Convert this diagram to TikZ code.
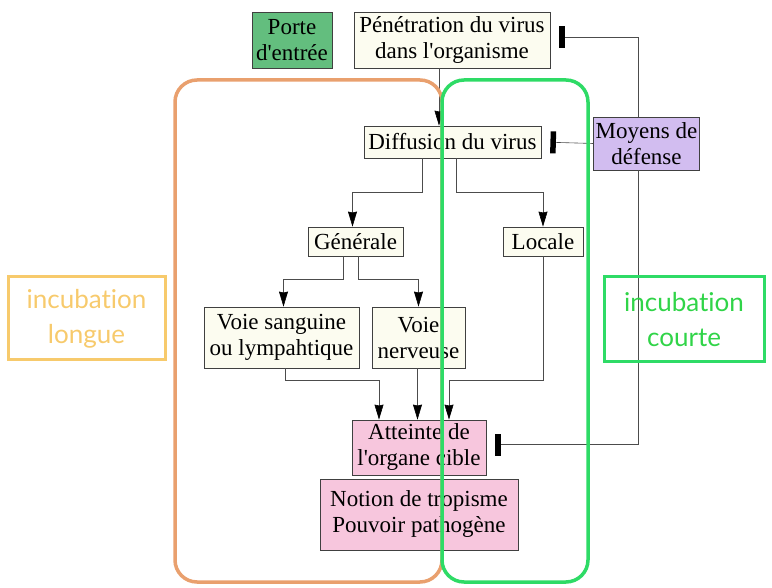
\documentclass[tikz,border=0pt]{standalone}
\usepackage{fontspec}
\setmainfont{Liberation Serif}
\newfontfamily\incfont[Ligatures=NoCommon]{Lato}
\usetikzlibrary{arrows.meta,calc}
\definecolor{boxcream}{HTML}{FCFCF0}
\definecolor{portegreen}{HTML}{63BE7E}
\definecolor{defviolet}{HTML}{D2BDF0}
\definecolor{ciblepink}{HTML}{F7C6DD}
\definecolor{longorange}{HTML}{E9A06E}
\definecolor{courtegreen}{HTML}{2EDB66}
\definecolor{courtetext}{HTML}{30D448}
\definecolor{longtext}{HTML}{F7CA6C}
\newcommand{\apos}{\textquotesingle}
\tikzset{
  box/.style={ % plain step of the chain
    draw=black!75, thick, fill=boxcream, rectangle,
    inner sep=2pt, align=center, text=black,
    font=\fontsize{23}{26}\selectfont
  },
  porte/.style={box, fill=portegreen},   % entry gate
  defense/.style={box, fill=defviolet},  % host defences
  cible/.style={box, fill=ciblepink},    % target organ
  flow/.style={ % ordinary link
    draw=black!70, semithick, -{Stealth[length=15pt,width=9pt,inset=1pt,color=black]}
  },
  inhib/.style={ % blocking link
    draw=black!70, semithick, -{Bar[width=22pt,line width=5.5pt,color=black]}, shorten >=9pt
  },
  frame/.style={line width=3.5pt, rounded corners=22pt},
  inclabel/.style={
    draw, line width=3pt, rectangle, align=center,
    font=\incfont\fontsize{26}{35}\selectfont
  }
}
\begin{document}
\begin{tikzpicture}[x=1pt, y=-1pt]
  \useasboundingbox (0,0) rectangle (772,588);

  \node[porte, minimum width=80pt, minimum height=56pt] (porte) at (292,40) {Porte\\d\apos entrée};
  \node[box, minimum width=196pt, minimum height=56pt] (penetration) at (452,40)
    {Pénétration du virus\\dans l\apos organisme};
  \node[box, minimum width=177pt, minimum height=32pt] (diffusion) at (452.5,142) {Diffusion du virus};
  \node[defense, minimum width=105pt, minimum height=53pt] (moyens) at (646.5,143.5) {Moyens de\\défense};
  \node[box, minimum width=95pt, minimum height=29pt] (generale) at (355.5,241.5) {Générale};
  \node[box, minimum width=80pt, minimum height=29pt] (locale) at (543,241.5) {Locale};
  \node[box, minimum width=155pt, minimum height=61pt] (sanguine) at (281.5,337.5)
    {Voie sanguine\\ou lympahtique};
  \node[box, minimum width=93pt, minimum height=61pt] (nerveuse) at (418.5,337.5) {Voie\\nerveuse};
  \node[cible, minimum width=134pt, minimum height=55pt] (atteinte) at (419,447.5)
    {Atteinte de\\l\apos organe cible};
  \node[cible, minimum width=198pt, minimum height=71pt] (notion) at (419,514.5)
    {Notion de tropisme\\Pouvoir pathogène};

  % spreading of the virus
  \draw[flow] ([xshift=-13pt]penetration.south) -- ([xshift=-13pt]penetration.south |- diffusion.north);
  \draw[flow] ([xshift=-30pt]diffusion.south) -- ++(0,34) -| ([xshift=-3pt]generale.north);
  \draw[flow] ([xshift=4pt]diffusion.south) -- ++(0,34) -| (locale.north);
  \draw[flow] ([xshift=-12pt]generale.south) -- ++(0,22.5) -| ([xshift=2pt]sanguine.north);
  \draw[flow] ([xshift=3pt]generale.south) -- ++(0,22.5) -| (nerveuse.north);
  \draw[flow] ([xshift=4pt]sanguine.south) -- ++(0,12) -| ([xshift=-40pt]atteinte.north);
  \draw[flow] ([xshift=-1pt]nerveuse.south) -- ([xshift=-1pt]nerveuse.south |- atteinte.north);
  \draw[flow] (locale.south) -- ++(0,124) -| ([xshift=30pt]atteinte.north);

  % defences block each step
  \draw[inhib] (moyens.west) -- (diffusion.east);
  \draw[inhib] ([xshift=-8pt]moyens.north) |- ([yshift=3pt]penetration.east);
  \draw[inhib] ([xshift=-8pt]moyens.south) |- ([yshift=3pt]atteinte.east);

  % incubation frames
  \draw[frame, longorange] (175,80) rectangle (442,582);
  \draw[frame, courtegreen] (442,80) rectangle (588,582);
  \node[inclabel, draw=longtext, text=longtext, minimum width=157pt, minimum height=83pt]
    (longue) at (86.5,318.5) {incubation\\longue};
  \node[inclabel, draw=courtegreen, text=courtetext, minimum width=160pt, minimum height=85pt]
    (courte) at (684,319.5) {incubation\\courte};
\end{tikzpicture}
\end{document}
